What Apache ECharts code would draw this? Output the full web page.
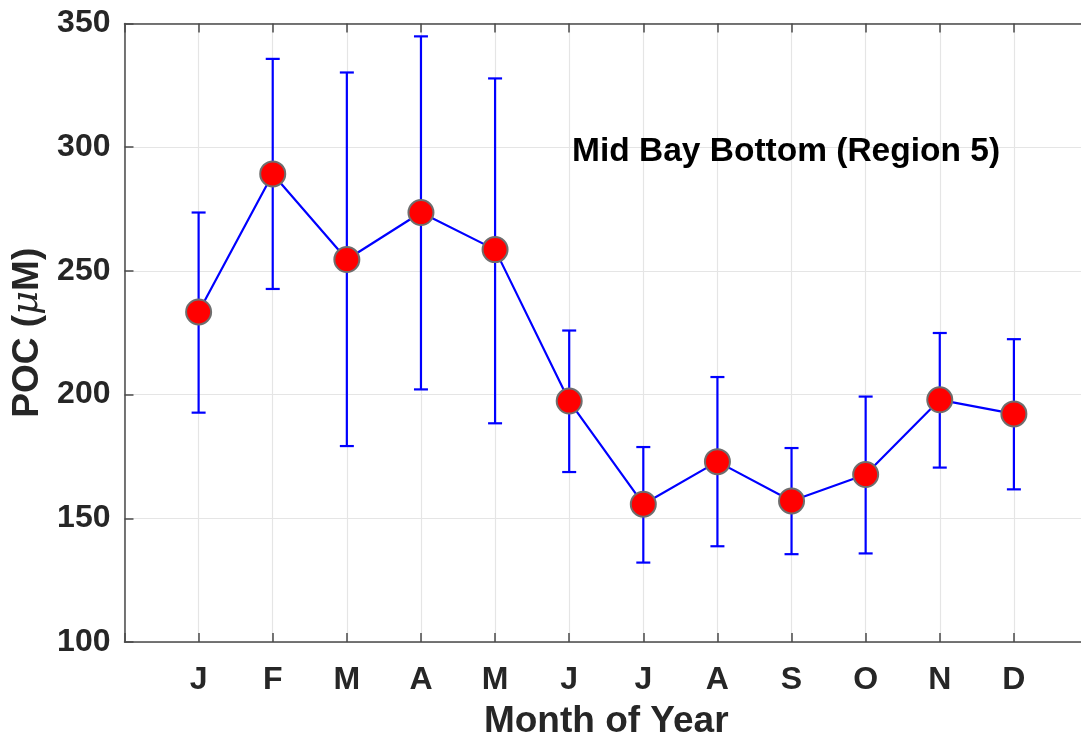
<!DOCTYPE html>
<html>
<head>
<meta charset="utf-8">
<title>Mid Bay Bottom (Region 5) POC</title>
<script src="https://cdn.jsdelivr.net/npm/echarts@6/dist/echarts.min.js"></script>
<style>
  html, body { margin: 0; padding: 0; background: #fff; overflow: hidden; }
  /* the axes box runs slightly past the right edge of the window */
  #chart { width: 1091px; height: 745px; }
</style>
</head>
<body>
<div id="chart"></div>
<script>
// Monthly particulate organic carbon, mean with upper/lower error limits
const months = ['J', 'F', 'M', 'A', 'M', 'J', 'J', 'A', 'S', 'O', 'N', 'D'];
const monthNumber = [1, 2, 3, 4, 5, 6, 7, 8, 9, 10, 11, 12];
const pocMean  = [233.4, 289.2, 254.6, 273.6, 258.6, 197.4, 155.7, 172.9, 157.0, 167.7, 197.9, 192.2];
const pocUpper = [273.6, 335.7, 330.2, 344.8, 327.8, 225.9, 178.8, 207.1, 178.4, 199.2, 224.9, 222.4];
const pocLower = [192.7, 242.7, 179.2, 202.1, 188.4, 168.7, 132.1, 138.7, 135.5, 135.8, 170.5, 161.7];
const yTicks = [100, 150, 200, 250, 300, 350];
const panelLabel = 'Mid Bay Bottom (Region 5)';

const FONT = "'Liberation Sans', Arial, Helvetica, sans-serif";
const AXIS_COLOR = '#4a4a4a';
const GRID_COLOR = '#e5e5e5';
const BLUE = '#0000ff';

const chart = echarts.init(document.getElementById('chart'), null, { renderer: 'canvas' });

const meanData = monthNumber.map((m, i) => [m, pocMean[i]]);
const errData = monthNumber.map((m, i) => [m, pocLower[i], pocUpper[i]]);

function renderErrorBar(params, api) {
  const x = api.value(0);
  const lo = api.coord([x, api.value(1)]);
  const hi = api.coord([x, api.value(2)]);
  const half = 7;
  const style = { stroke: BLUE, lineWidth: 2.2, fill: null };
  return {
    type: 'group',
    children: [
      { type: 'line', shape: { x1: hi[0], y1: hi[1], x2: lo[0], y2: lo[1] }, style },
      { type: 'line', shape: { x1: hi[0] - half, y1: hi[1], x2: hi[0] + half, y2: hi[1] }, style },
      { type: 'line', shape: { x1: lo[0] - half, y1: lo[1], x2: lo[0] + half, y2: lo[1] }, style }
    ]
  };
}

const tickLabelStyle = { fontFamily: FONT, fontWeight: 'bold', fontSize: 32, color: '#262626' };

const option = {
  animation: false,
  backgroundColor: '#ffffff',
  grid: { left: 124.5, top: 23.5, width: 966, height: 623, containLabel: false },
  xAxis: [
    {
      type: 'value', min: 0, max: 13, interval: 1, position: 'bottom',
      name: 'Month of Year', nameLocation: 'middle', nameGap: 61,
      nameTextStyle: { fontFamily: FONT, fontWeight: 'bold', fontSize: 37, color: '#262626' },
      axisLine: { show: true, lineStyle: { color: AXIS_COLOR, width: 1.5 } },
      axisTick: { show: true, inside: true, length: 9, lineStyle: { color: AXIS_COLOR, width: 1.5 } },
      axisLabel: Object.assign({ margin: 22, formatter: v => months[v - 1] || '' }, tickLabelStyle),
      splitLine: { show: true, lineStyle: { color: GRID_COLOR, width: 1.2 } }
    },
    {
      type: 'value', min: 0, max: 13, interval: 1, position: 'top',
      axisLine: { show: true, lineStyle: { color: AXIS_COLOR, width: 1.5 } },
      axisTick: { show: true, inside: true, length: 9, lineStyle: { color: AXIS_COLOR, width: 1.5 } },
      axisLabel: { show: false },
      splitLine: { show: false }
    }
  ],
  yAxis: [
    {
      type: 'value', min: yTicks[0], max: yTicks[yTicks.length - 1], interval: 50,
      name: '{b|POC (}{i|\u03bc}{b|M)}', nameLocation: 'middle', nameGap: 77, nameRotate: 90,
      nameTextStyle: {
        rich: {
          b: { fontFamily: FONT, fontWeight: 'bold', fontSize: 37, color: '#262626' },
          i: { fontFamily: "'DejaVu Serif', 'Liberation Serif', serif", fontStyle: 'italic', fontSize: 37, color: '#262626' }
        }
      },
      axisLine: { show: true, lineStyle: { color: AXIS_COLOR, width: 1.5 } },
      axisTick: { show: true, inside: true, length: 9, lineStyle: { color: AXIS_COLOR, width: 1.5 } },
      axisLabel: Object.assign({ margin: 14 }, tickLabelStyle),
      splitLine: { show: true, lineStyle: { color: GRID_COLOR, width: 1.2 } }
    }
  ],
  series: [
    {
      name: 'range', type: 'custom', xAxisIndex: 0, yAxisIndex: 0,
      renderItem: renderErrorBar, data: errData, z: 2, silent: true
    },
    {
      name: 'POC', type: 'line', xAxisIndex: 0, yAxisIndex: 0, data: meanData,
      symbol: 'circle', symbolSize: 25, showSymbol: true, z: 3,
      lineStyle: { color: BLUE, width: 2.2 },
      itemStyle: { color: '#ff0000', borderColor: '#6e6e6e', borderWidth: 2 },
      emphasis: { disabled: true }
    }
  ],
  graphic: [
    {
      type: 'text', left: 572, top: 135, z: 10,
      style: { text: panelLabel, fontFamily: FONT, fontWeight: 'bold', fontSize: 33.5, fill: '#000000' }
    }
  ]
};

chart.setOption(option);
</script>
</body>
</html>
